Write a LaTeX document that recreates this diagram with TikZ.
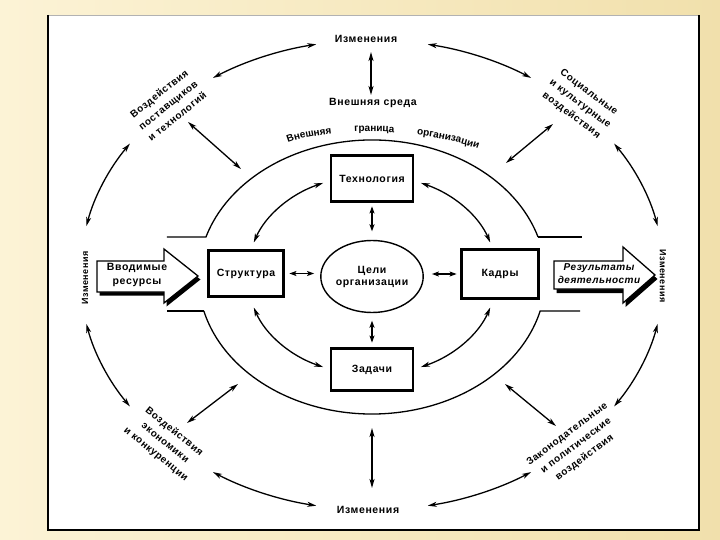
\documentclass[tikz,border=0pt]{standalone}
\usepackage{fontspec}
\setmainfont{Liberation Sans}
\newfontfamily\labfont{Liberation Sans}[LetterSpace=6]
\newfontfamily\smallfont{Liberation Sans}[LetterSpace=6]
\newfontfamily\sidefont{Liberation Sans}[LetterSpace=5]
\usetikzlibrary{arrows.meta,decorations.text,calc,shapes.geometric}
\definecolor{frameL}{RGB}{252,243,214}
\definecolor{frameR}{RGB}{241,224,172}
\begin{document}
\begin{tikzpicture}[x=1pt,y=1pt,
  lab/.style={font=\labfont\bfseries\fontsize{10.5}{12}\selectfont, inner sep=0pt, align=center},
  slab/.style={font=\smallfont\bfseries\fontsize{10}{14.5}\selectfont, inner sep=0pt, align=center},
  sidelab/.style={font=\sidefont\bfseries\fontsize{9}{11}\selectfont, inner sep=0pt},
  box/.style={draw, line width=2.8pt, fill=white, inner sep=0pt, font=\labfont\bfseries\fontsize{10.5}{12}\selectfont},
  tipA/.tip={Stealth[length=9pt,width=5pt,inset=2.5pt]},
  tipB/.tip={Stealth[length=7pt,width=5pt,inset=1.5pt]},
  dbl/.style={line width=1.3pt, tipA-tipA},
  sdbl/.style={line width=1.2pt, tipB-tipB},
  bound/.style={line width=1.3pt},
  bigarrow/.style={fill=white, draw, line width=1.3pt, line join=miter},
]
\useasboundingbox (0,0) rectangle (720,-540);
% background frame
\shade[left color=frameL, right color=frameR] (0,0) rectangle (720,-540);
\fill[white] (48,-15) rectangle (699,-531);
\draw[gray!60, line width=0.8pt] (48,-15) -- (699,-15);
\draw[line width=1.6pt] (48,-15) -- (48,-531);
\draw[line width=2.6pt] (47,-530) -- (699,-530) -- (699,-15);

% centres
\coordinate (O) at (372,-275);
\coordinate (E) at (372,-277);

% organisation boundary
\coordinate (eUR) at ($(E)+(17:173.6 and 137)$);
\coordinate (eUL) at ($(E)+(163:173.6 and 137)$);
\coordinate (eLL) at ($(E)+(194.4:173.6 and 137)$);
\coordinate (eLR) at ($(E)+(345.6:173.6 and 137)$);
\draw[bound] (eUR) arc[start angle=17, end angle=163, x radius=173.6, y radius=137] -- ++(-39,0);
\draw[bound] (eUR) -- ++(44,0);
\draw[bound] (eLL) arc[start angle=194.4, end angle=345.6, x radius=173.6, y radius=137] -- ++(40,0);
\draw[bound] (eLL) -- ++(-37,0);

% boundary label
\coordinate (bS) at (288,-143);
\coordinate (bE) at (478,-149);
\path[decorate, decoration={text along path, text align=fit to path stretching spaces,
  text={|\labfont\bfseries\fontsize{10}{11}\selectfont|Внешняя граница организации}}]
  (bS) .. controls (330,-127) and (420,-127) .. (bE);

% outer labels
\node[lab] (chT) at (366,-39) {Изменения};
\node[lab] (chB) at (368,-510) {Изменения};
\node[sidelab, rotate=90] (chL) at (85,-278) {Изменения};
\node[sidelab, rotate=-90] (chR) at (663,-276) {Изменения};
\node[lab] (env) at (373,-103) {Внешняя среда};
\node[slab, rotate=38.5] (tl) at (168,-105) {Воздействия\\поставщиков\\и технологий};
\node[slab, rotate=-37] (tr) at (580,-104) {Социальные\\и культурные\\воздействия};
\node[slab, rotate=-39] (bl) at (165,-443) {Воздействия\\экономики\\и конкуренции};
\node[slab, rotate=37] (br) at (576,-446) {Законодательные\\и политические\\воздействия};

% outer ring arrows
\foreach \a/\b [count=\i] in {101/123, 57/79, 12/34, -34/-12, -79/-57, -123/-101, 192/214, 146/168}{
  \coordinate (oa\i) at ($(O)+(\a:292 and 235)$);
  \draw[dbl] (oa\i) arc[start angle=\a, end angle=\b, x radius=292, y radius=235];
}

% radial arrows
\coordinate (rT1) at (371,-52);  \coordinate (rT2) at (371,-95);
\coordinate (rB1) at (372,-428); \coordinate (rB2) at (372,-488);
\coordinate (rTL1) at (188,-122); \coordinate (rTL2) at (241,-169);
\coordinate (rTR1) at (553,-124); \coordinate (rTR2) at (506,-163);
\coordinate (rBL1) at (238,-384); \coordinate (rBL2) at (187,-423);
\coordinate (rBR1) at (505,-384); \coordinate (rBR2) at (556,-426);
\draw[dbl] (rT1) -- (rT2);
\draw[dbl] (rB1) -- (rB2);
\draw[dbl] (rTL1) -- (rTL2);
\draw[dbl] (rTR1) -- (rTR2);
\draw[dbl] (rBL1) -- (rBL2);
\draw[dbl] (rBR1) -- (rBR2);

% inner ring arrows
\foreach \a/\b [count=\i] in {67/19, 113/161, 199/247, 341/293}{
  \coordinate (ia\i) at ($(O)+(\a:125 and 100)$);
  \draw[dbl] (ia\i) arc[start angle=\a, end angle=\b, x radius=125, y radius=100];
}

% boxes
\node[box, minimum width=82pt, minimum height=46pt] (tech) at (372,-178.5) {Технология};
\node[box, minimum width=75pt, minimum height=46pt] (struct) at (246,-273.5) {Структура};
\node[box, minimum width=77pt, minimum height=49pt] (kadry) at (500,-274) {Кадры};
\node[box, minimum width=82pt, minimum height=42pt] (task) at (372,-369.5) {Задачи};
\node[draw, ellipse, line width=1.4pt, minimum width=92pt, minimum height=72pt, inner sep=0pt,
      font=\labfont\bfseries\fontsize{10.5}{12}\selectfont, align=center] (goal) at (372,-276.5) {Цели\\организации};

% short arrows
\draw[sdbl, shorten <=3.5pt, shorten >=8.5pt] (tech.south) -- (goal.north);
\draw[sdbl, shorten <=7.5pt, shorten >=4.5pt] (goal.south) -- (task.north);
\draw[sdbl, shorten <=4.5pt, shorten >=6pt] (struct.east) -- (struct.east -| goal.west);
\draw[sdbl, shorten <=8pt, shorten >=3.5pt] (kadry.west -| goal.east) -- (kadry.west);

% input / output arrows
\fill[shift={(2.5,-3.5)}] (97,-261) -- (164,-261) -- (164,-249) -- (198,-276) -- (164,-303) -- (164,-292) -- (97,-292) -- cycle;
\path[bigarrow] (97,-261) -- (164,-261) -- (164,-249) -- (198,-276) -- (164,-303) -- (164,-292) -- (97,-292) -- cycle;
\node[lab, font=\labfont\bfseries\fontsize{10.5}{14}\selectfont] (inp) at (137,-275) {Вводимые\\ресурсы};

\fill[shift={(2.5,-4)}] (554,-261) -- (623,-261) -- (623,-247) -- (655,-275) -- (623,-303) -- (623,-289) -- (554,-289) -- cycle;
\path[bigarrow] (554,-261) -- (623,-261) -- (623,-247) -- (655,-275) -- (623,-303) -- (623,-289) -- (554,-289) -- cycle;
\node[lab, font=\sidefont\bfseries\itshape\fontsize{10}{13.5}\selectfont] (outp) at (599,-273.5) {Результаты\\деятельности};
\end{tikzpicture}
\end{document}
